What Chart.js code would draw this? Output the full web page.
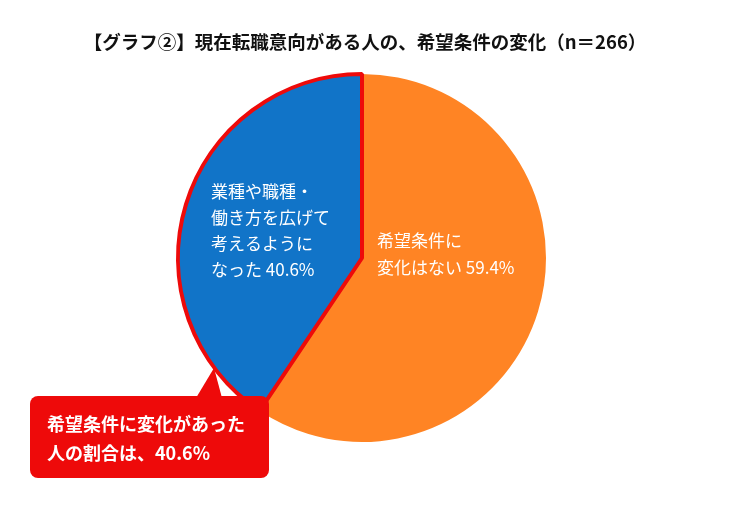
<!DOCTYPE html>
<html><head><meta charset="utf-8">
<script src="https://cdn.jsdelivr.net/npm/chart.js@4"></script>
<style>html,body{margin:0;padding:0;background:#fff}#wrap{width:729px;height:509px;position:relative}</style>
</head><body><div id="wrap"><canvas id="chart"></canvas></div>
<script>
const categories = ["希望条件に\n変化はない", "業種や職種・\n働き方を広げて\n考えるように\nなった"];
const values = [59.4, 40.6];
const colors = ["#FF8424", "#1174C8"];

const FONT = '"Noto Sans CJK JP", "Noto Sans", sans-serif';

const labelPlugin = {
  id: "labels",
  afterDraw(chart) {
    const ctx = chart.ctx;
    const arcs = chart.getDatasetMeta(0).data;
    const cx = arcs[0].x, cy = arcs[0].y;
    ctx.save();
    ctx.fillStyle = "#fff";
    ctx.textBaseline = "middle";
    ctx.font = "17px " + FONT;
    // orange label
    let lines = categories[0].split("\n");
    lines[lines.length - 1] += " " + values[0].toFixed(1) + "%";
    lines.forEach((l, i) => ctx.fillText(l, cx + 15, cy - 17 + i * 27));
    // blue label
    lines = categories[1].split("\n");
    lines[lines.length - 1] += " " + values[1].toFixed(1) + "%";
    lines.forEach((l, i) => ctx.fillText(l, cx - 151, cy - 66 + i * 26));

    // title
    ctx.fillStyle = "#111";
    ctx.textAlign = "center";
    ctx.font = "bold 18.5px " + FONT;
    ctx.fillText("【グラフ②】現在転職意向がある人の、希望条件の変化（n＝266）", 365, 42);

    // callout
    ctx.fillStyle = "#EE0A0A";
    ctx.beginPath();
    ctx.moveTo(196, 398);
    ctx.lineTo(214, 368);
    ctx.lineTo(222, 398);
    ctx.closePath();
    ctx.fill();
    ctx.beginPath();
    ctx.roundRect(30, 396, 239, 82, 8);
    ctx.fill();
    ctx.fillStyle = "#fff";
    ctx.textAlign = "left";
    ctx.font = "bold 18px " + FONT;
    ctx.fillText("希望条件に変化があった", 47, 424);
    ctx.fillText("人の割合は、40.6%", 47, 453);
    ctx.restore();
  }
};

new Chart(document.getElementById("chart"), {
  type: "pie",
  data: {
    labels: categories,
    datasets: [{
      data: values,
      backgroundColor: colors,
      borderColor: ["#FF8424", "#EE0A0A"],
      borderWidth: [0, 4],
      hoverOffset: 0
    }]
  },
  options: {
    responsive: true,
    maintainAspectRatio: false,
    animation: false,
    events: [],
    layout: { padding: { top: 72, bottom: 65, left: 176, right: 181 } },
    plugins: { legend: { display: false }, tooltip: { enabled: false } }
  },
  plugins: [labelPlugin]
});
</script></body></html>
